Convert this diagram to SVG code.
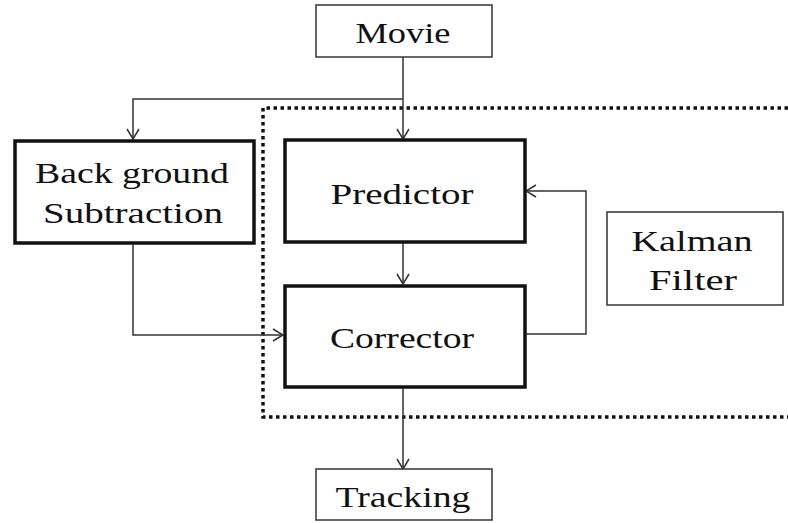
<svg xmlns="http://www.w3.org/2000/svg" width="788" height="523" viewBox="0 0 788 523">
<defs>
<marker id="arr" viewBox="0 0 12 14" refX="11" refY="7" markerWidth="12" markerHeight="14" markerUnits="userSpaceOnUse" orient="auto">
<path d="M1,1 L11,7 L1,13" fill="none" stroke="#333" stroke-width="1.5"/>
</marker>
<style>
.thin{fill:#fff;stroke:#333;stroke-width:1.5}
.thick{fill:#fff;stroke:#111;stroke-width:3.5}
.t{font-family:"Liberation Serif","DejaVu Serif",serif;font-size:30px;fill:#111;text-anchor:middle}
.c{fill:none;stroke:#333;stroke-width:1.5}
</style>
</defs>
<rect width="788" height="523" fill="#fff"/>
<path d="M788,108 H263 V417 H788" fill="none" stroke="#111" stroke-width="3.5" stroke-dasharray="3.5 3.5"/>
<g id="connectors">
<path class="c" d="M403,57 V139" marker-end="url(#arr)"/>
<path class="c" d="M403,99 H133 V139" marker-end="url(#arr)"/>
<path class="c" d="M133,244 V335 H283" marker-end="url(#arr)"/>
<path class="c" d="M403,242 V284" marker-end="url(#arr)"/>
<path class="c" d="M526,334 H586 V191 H526" marker-end="url(#arr)"/>
<path class="c" d="M403,387 V469" marker-end="url(#arr)"/>
</g>
<g id="movie"><rect class="thin" x="316" y="5" width="176" height="52"/><text class="t" x="403" y="43" textLength="95" lengthAdjust="spacingAndGlyphs">Movie</text></g>
<g id="background"><rect class="thick" x="15" y="141" width="239" height="102"/><text class="t" x="132" y="183" textLength="194" lengthAdjust="spacingAndGlyphs">Back ground</text><text class="t" x="133" y="223" textLength="180" lengthAdjust="spacingAndGlyphs">Subtraction</text></g>
<g id="predictor"><rect class="thick" x="285" y="140" width="240" height="102"/><text class="t" x="402" y="204" textLength="143" lengthAdjust="spacingAndGlyphs">Predictor</text></g>
<g id="corrector"><rect class="thick" x="285" y="286" width="240" height="101"/><text class="t" x="402" y="348" textLength="144" lengthAdjust="spacingAndGlyphs">Corrector</text></g>
<g id="kalman"><rect class="thin" x="607" y="212" width="176" height="93"/><text class="t" x="692" y="251" textLength="121" lengthAdjust="spacingAndGlyphs">Kalman</text><text class="t" x="693" y="290" textLength="88" lengthAdjust="spacingAndGlyphs">Filter</text></g>
<g id="tracking"><rect class="thin" x="316" y="469" width="176" height="51"/><text class="t" x="403" y="507" textLength="135" lengthAdjust="spacingAndGlyphs">Tracking</text></g>
</svg>
